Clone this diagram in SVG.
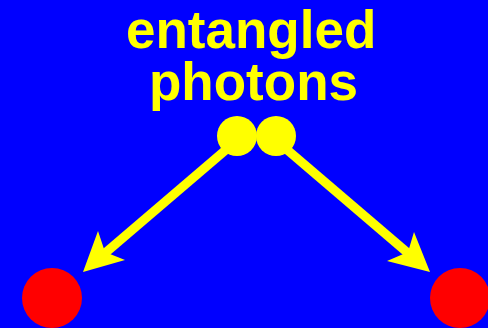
<svg xmlns="http://www.w3.org/2000/svg" width="488" height="328" viewBox="0 0 488 328">
<style>
.t{font-family:"Liberation Sans",Arial,sans-serif;font-weight:bold;font-size:53px;fill:#ffff00}
.ln{stroke:#ffff00;stroke-width:9;fill:none}
.hd{fill:#ffff00}
.ph{fill:#ffff00}
.det{fill:#ff0000}
</style>
<rect width="488" height="328" fill="#0000ff"/>
<g id="connectors">
<line class="ln" x1="235" y1="142" x2="104" y2="254"/>
<polygon class="hd" points="83,272 98,231 105,252 125,260"/>
<line class="ln" x1="278" y1="142" x2="409" y2="254"/>
<polygon class="hd" points="430,272 414,232 408,252 387,261"/>
</g>
<g id="label"><text class="t" x="126" y="48">entangled</text><text class="t" x="149" y="100">photons</text></g>
<g id="photon1"><circle class="ph" cx="237" cy="136" r="20"/></g>
<g id="photon2"><circle class="ph" cx="276" cy="136" r="20"/></g>
<g id="detector1"><circle class="det" cx="52" cy="298" r="30"/></g>
<g id="detector2"><circle class="det" cx="460" cy="298" r="30"/></g>
</svg>
